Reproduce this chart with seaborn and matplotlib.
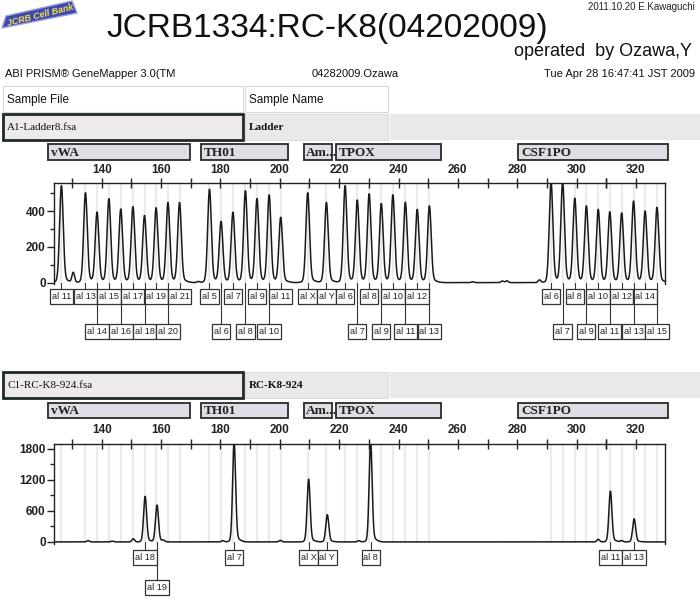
import numpy as np
import pandas as pd
import matplotlib
matplotlib.use('Agg')
import matplotlib.pyplot as plt
import seaborn as sns
from matplotlib.patches import Rectangle, Polygon
from matplotlib.lines import Line2D
from matplotlib.transforms import blended_transform_factory
from matplotlib.ticker import MultipleLocator, FixedLocator

# ---------------- data ----------------
# Ladder (A1-Ladder8.fsa): allele labels, sizes (bp), peak heights (RFU), label row
ladder_labels = ['al 11', 'al 13', 'al 14', 'al 15', 'al 16', 'al 17', 'al 18', 'al 19', 'al 20', 'al 21',
                 'al 5', 'al 6', 'al 7', 'al 8', 'al 9', 'al 10', 'al 11',
                 'al X', 'al Y',
                 'al 6', 'al 7', 'al 8', 'al 9', 'al 10', 'al 11', 'al 12', 'al 13',
                 'al 6', 'al 7', 'al 8', 'al 9', 'al 10', 'al 11', 'al 12', 'al 13', 'al 14', 'al 15']
ladder_bp = [126.4, 134.5, 138.4, 142.4, 146.4, 150.5, 154.4, 158.3, 162.3, 166.2,
             176.3, 180.2, 184.2, 188.4, 192.3, 196.4, 200.3,
             209.4, 215.7,
             222.0, 226.1, 230.1, 234.2, 238.1, 242.3, 246.3, 250.4,
             291.4, 295.3, 299.4, 303.3, 307.3, 311.2, 315.2, 319.2, 323.1, 327.1]
ladder_rfu = [522, 484, 378, 451, 395, 408, 360, 402, 430, 430,
              503, 328, 378, 494, 451, 471, 350,
              484, 432,
              522, 443, 477, 425, 471, 432, 393, 413,
              540, 540, 453, 412, 393, 380, 374, 438, 384, 404]
ladder_row = [1, 1, 2, 1, 2, 1, 2, 1, 2, 1,
              1, 2, 1, 2, 1, 2, 1,
              1, 1,
              1, 2, 1, 2, 1, 2, 1, 2,
              1, 2, 1, 2, 1, 2, 1, 2, 1, 2]
ladder_minor_bp = [130.4, 172.5, 265.0, 275.0, 276.5, 287.5]
ladder_minor_rfu = [56, 6, 5, 9, 10, 15]

# Sample (C1-RC-K8-924.fsa)
sample_labels = ['al 18', 'al 19', 'al 7', 'al X', 'al Y', 'al 8', 'al 11', 'al 13']
sample_bp = [154.6, 158.6, 184.6, 209.7, 216.0, 230.6, 311.4, 319.4]
sample_rfu = [849, 687, 1850, 1170, 508, 1870, 946, 430]
sample_row = [1, 2, 1, 1, 1, 1, 1, 1]
sample_minor_bp = [135.4, 143.5, 150.6, 160.7, 180.8, 200.2, 226.6, 307.3, 315.2]
sample_minor_rfu = [25, 15, 60, 25, 25, 30, 25, 50, 25]

# Markers (dye panel bins), start / end size in bp
marker_names = ['vWA', 'TH01', 'Am...', 'TPOX', 'CSF1PO']
marker_start = [121.9, 173.5, 208.0, 219.0, 280.4]
marker_end = [169.8, 202.9, 217.7, 254.2, 330.7]

x_ticks = [140, 160, 180, 200, 220, 240, 260, 280, 300, 320]

# ---------------- style ----------------
sns.set_theme(style='white')
SANS = ['Liberation Sans', 'DejaVu Sans']
SERIF = ['Liberation Serif', 'DejaVu Serif']
plt.rcParams['font.family'] = SANS
INK = '#222222'

W, H = 700, 600
fig = plt.figure(figsize=(7, 6), dpi=100)
fig.patch.set_facecolor('white')
renderer = fig.canvas.get_renderer()


def fx(x):
    return x / W


def fy(y):
    return 1 - y / H


def trace(peaks_bp, peaks_rfu, minor_bp, minor_rfu, sigma):
    xs = np.arange(123.9, 329.85, 0.04)
    ys = np.zeros_like(xs)
    for p, h in zip(peaks_bp, peaks_rfu):
        ys += h * np.exp(-0.5 * ((xs - p) / sigma) ** 2)
        ys += 0.04 * h * np.exp(-0.5 * ((xs - p - 0.6) / (sigma * 2.6)) ** 2)
    for p, h in zip(minor_bp, minor_rfu):
        ys += h * np.exp(-0.5 * ((xs - p) / 0.45) ** 2)
    return pd.DataFrame({'bp': xs, 'rfu': ys})


def style_axis(ax, ylim, major, minor):
    ax.set_xlim(123.9, 329.8)
    ax.set_ylim(*ylim)
    ax.set_facecolor('white')
    ax.grid(False)
    ax.xaxis.tick_top()
    ax.xaxis.set_major_locator(FixedLocator(x_ticks))
    ax.xaxis.set_minor_locator(FixedLocator([t - 10 for t in x_ticks] + [310]))
    ax.tick_params(axis='x', which='both', direction='inout', length=7, width=1,
                   color=INK, top=True, bottom=False, labeltop=True, labelbottom=False,
                   pad=2, labelsize=8.5, labelcolor=INK)
    ax.yaxis.set_major_locator(MultipleLocator(major))
    ax.yaxis.set_minor_locator(MultipleLocator(minor))
    ax.tick_params(axis='y', which='major', direction='out', length=5, width=1,
                   color=INK, left=True, right=False, labelsize=8.5, labelcolor=INK, pad=1)
    ax.tick_params(axis='y', which='minor', direction='out', length=3, width=1,
                   color=INK, left=True, right=False)
    for s in ['top', 'left', 'right']:
        ax.spines[s].set_visible(True)
        ax.spines[s].set_color(INK)
        ax.spines[s].set_linewidth(1.0)
    ax.spines['bottom'].set_visible(False)
    ax.set_xlabel('')
    ax.set_ylabel('')
    for lab in ax.get_xticklabels() + ax.get_yticklabels():
        lab.set_fontweight('bold')


def bins(ax, ylim):
    y0 = (0 - ylim[0]) / (ylim[1] - ylim[0])
    for b in ladder_bp:
        ax.axvline(b, ymin=y0, ymax=1, color='#ebebeb', lw=1.7, zorder=0)


def allele_labels(ax, labels, bps, rows, top1, top2, bh=15):
    # box tops given as pixel rows from the top of the figure
    for t, b, r in zip(labels, bps, rows):
        xp, yp = ax.transData.transform((b, 0))
        base_y = H - yp
        top = top1 if r == 1 else top2
        txt = fig.text(fx(xp), fy(top + bh / 2 + 0.3), t, ha='center', va='center',
                       fontsize=6.6, family=SANS, color=INK, zorder=6)
        tw = txt.get_window_extent(renderer=renderer).width
        bw = tw + 3.5
        fig.add_artist(Line2D([fx(xp), fx(xp)], [fy(base_y), fy(top)],
                              transform=fig.transFigure, color='#333333', lw=0.8))
        fig.add_artist(Rectangle((fx(xp - bw / 2), fy(top + bh)), bw / W, bh / H,
                                 transform=fig.transFigure, fc='white', ec='#333333', lw=0.9))


def marker_boxes(ax, ytop, ybot):
    tr = blended_transform_factory(ax.transData, fig.transFigure)
    for n, s, e in zip(marker_names, marker_start, marker_end):
        r = Rectangle((s, fy(ybot)), e - s, fy(ytop) - fy(ybot), transform=tr,
                      fc='#dedee6', ec='#2a2a2a', lw=1.3, clip_on=False)
        fig.add_artist(r)
        fig.text(s + 0.9, fy((ytop + ybot) / 2 + 0.5), n, transform=tr, ha='left', va='center',
                 fontsize=9.5, fontweight='bold', family=SERIF, color=INK)


def file_row(ytop, ybot, fname, sname):
    fig.add_artist(Rectangle((fx(3), fy(ybot)), fx(243) - fx(3), fy(ytop) - fy(ybot),
                             transform=fig.transFigure, fc='#ecebe9', ec='#1e2a26', lw=2.0))
    fig.add_artist(Rectangle((fx(245), fy(ybot)), fx(388) - fx(245), fy(ytop) - fy(ybot),
                             transform=fig.transFigure, fc='#eae9e7', ec='#dcdcdc', lw=0.8))
    fig.add_artist(Rectangle((fx(390), fy(ybot)), fx(700) - fx(390), fy(ytop) - fy(ybot),
                             transform=fig.transFigure, fc='#ebe9e7', ec='none'))
    fig.text(fx(7), fy((ytop + ybot) / 2), fname, ha='left', va='center', fontsize=8,
             family=SERIF, color='#111111')
    fig.text(fx(249), fy((ytop + ybot) / 2), sname, ha='left', va='center', fontsize=8,
             family=SERIF, fontweight='bold', color='#111111')


# ---------------- header ----------------
logo = Polygon([(fx(2), fy(28)), (fx(6), fy(16)), (fx(72), fy(1)), (fx(77), fy(13))],
               closed=True, transform=fig.transFigure, fc='#3d47b0', ec='#9aa0d8', lw=1.0)
fig.add_artist(logo)
fig.text(fx(40), fy(15), 'JCRB Cell Bank', ha='center', va='center', rotation=14,
         fontsize=6.5, fontweight='bold', fontstyle='italic', color='#f2e24a', family=SANS)

fig.text(fx(327), fy(29), 'JCRB1334:RC-K8(04202009)', ha='center', va='center',
         fontsize=24, family=SANS, color='#111111')
fig.text(fx(695), fy(7), '2011.10.20 E.Kawaguchi', ha='right', va='center',
         fontsize=7, family=SANS, color='#222222')
fig.text(fx(692), fy(52), 'operated  by Ozawa,Y', ha='right', va='center',
         fontsize=13, family=SANS, color='#111111')
fig.text(fx(5), fy(74), 'ABI PRISM® GeneMapper 3.0(TM', ha='left', va='center',
         fontsize=8, family=SANS, color='#111111')
fig.text(fx(355), fy(74), '04282009.Ozawa', ha='center', va='center',
         fontsize=8, family=SANS, color='#111111')
fig.text(fx(695), fy(74), 'Tue Apr 28 16:47:41 JST 2009', ha='right', va='center',
         fontsize=8, family=SANS, color='#111111')

# header table
fig.add_artist(Rectangle((fx(3), fy(112)), fx(243) - fx(3), fy(86) - fy(112),
                         transform=fig.transFigure, fc='white', ec='#d8d8d8', lw=0.8))
fig.add_artist(Rectangle((fx(245), fy(112)), fx(388) - fx(245), fy(86) - fy(112),
                         transform=fig.transFigure, fc='white', ec='#d8d8d8', lw=0.8))
fig.text(fx(7), fy(100), 'Sample File', ha='left', va='center', fontsize=8.5,
         family=SANS, color='#111111')
fig.text(fx(249), fy(100), 'Sample Name', ha='left', va='center', fontsize=8.5,
         family=SANS, color='#111111')

file_row(114, 140, 'A1-Ladder8.fsa', 'Ladder')
file_row(372, 398, 'C1-RC-K8-924.fsa', 'RC-K8-924')

# ---------------- ladder panel ----------------
ylim_top = (-10, 555)
ax1 = fig.add_axes([fx(54), fy(284.4), fx(665) - fx(54), (284.4 - 183.3) / H])
bins(ax1, ylim_top)
df1 = trace(ladder_bp, ladder_rfu, ladder_minor_bp, ladder_minor_rfu, 0.6)
sns.lineplot(data=df1, x='bp', y='rfu', ax=ax1, color='#1a1a1a', lw=1.1,
             estimator=None, sort=False, zorder=3)
style_axis(ax1, ylim_top, 200, 100)
allele_labels(ax1, ladder_labels, ladder_bp, ladder_row, 289, 324)
marker_boxes(ax1, 144, 160)

# ---------------- sample panel ----------------
ylim_bot = (-40, 1890)
ax2 = fig.add_axes([fx(54), fy(544), fx(665) - fx(54), (544 - 444) / H])
bins(ax2, ylim_bot)
df2 = trace(sample_bp, sample_rfu, sample_minor_bp, sample_minor_rfu, 0.5)
sns.lineplot(data=df2, x='bp', y='rfu', ax=ax2, color='#1a1a1a', lw=1.1,
             estimator=None, sort=False, zorder=3)
style_axis(ax2, ylim_bot, 600, 300)
allele_labels(ax2, sample_labels, sample_bp, sample_row, 550, 580)
marker_boxes(ax2, 403, 418)

fig.savefig('out.png', dpi=100)
